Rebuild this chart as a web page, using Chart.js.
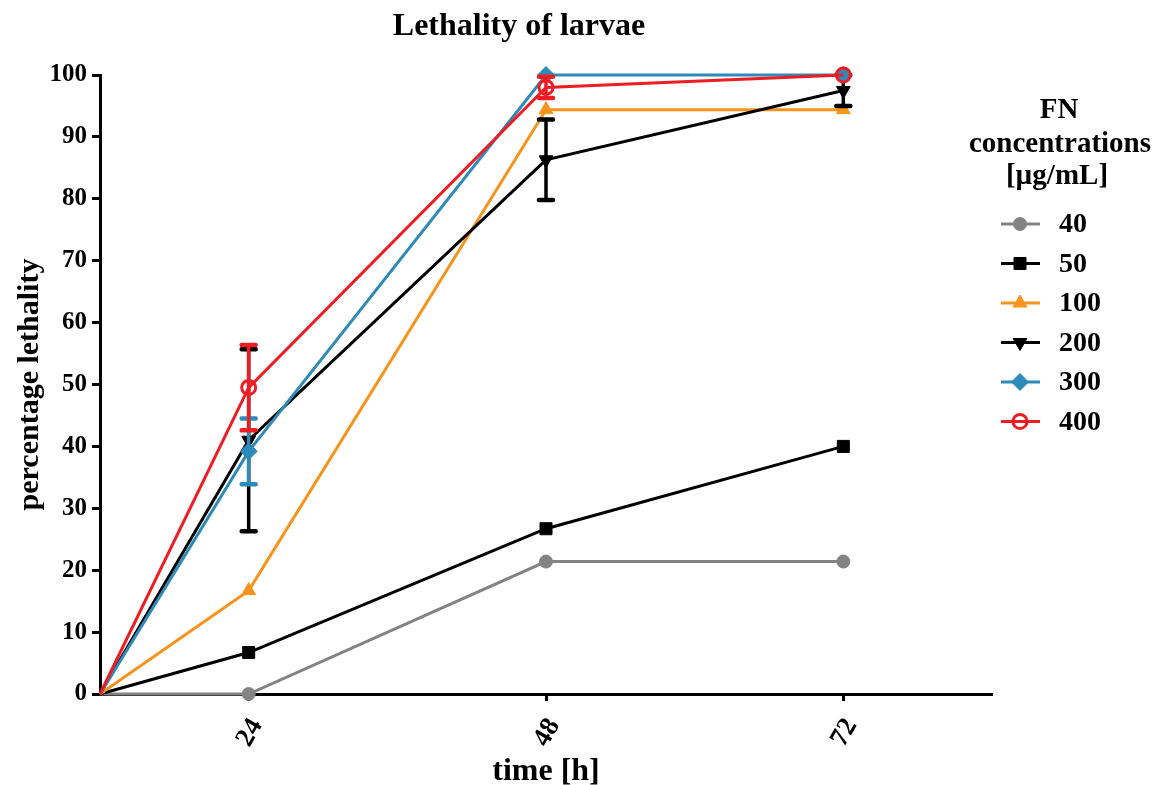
<!DOCTYPE html>
<html>
<head>
<meta charset="utf-8">
<script src="https://cdn.jsdelivr.net/npm/chart.js@4/dist/chart.umd.min.js"></script>
<style>
  html, body { margin: 0; padding: 0; background: #fff; }
  #wrap { width: 1158px; height: 785px; }
</style>
</head>
<body>
<div id="wrap"><canvas id="chart" width="1158" height="785"></canvas></div>
<script>
// time points (h) and tick labels
const hours = [0, 24, 48, 72];
const xTickValues = [24, 48, 72];
const yTickStep = 10;

// FN concentrations [µg/mL]
const concLabels = ["40", "50", "100", "200", "300", "400"];

// percentage lethality per concentration
const conc40 = [0, 0, 21.4, 21.4];
const conc50 = [0, 6.7, 26.7, 40];
const conc100 = [0, 16.7, 94.4, 94.4];
const conc200 = [0, 41, 86.3, 97.5];
const conc300 = [0, 39.2, 100, 100];
const conc400 = [0, 49.5, 98, 100];

// error bars (±)
const err40 = [0, 0, 0, 0];
const err50 = [0, 0, 0, 0];
const err100 = [0, 0, 0, 0];
const err200 = [0, 14.7, 6.5, 2.5];
const err300 = [0, 5.3, 0, 0];
const err400 = [0, 6.9, 1.7, 0];

// Prism style axis: 0 h sits on the left edge, half a step before 24 h
const xAxisMin = 12;
const xAxisMax = 84;

const FONT = "'Liberation Serif', 'Times New Roman', serif";

const seriesDefs = [
  { values: conc40, errors: err40, color: "#838383", style: "circle", radius: 6.5, fill: true, rot: 0 },
  { values: conc50, errors: err50, color: "#000000", style: "rect", radius: 8.5, fill: true, rot: 0 },
  { values: conc100, errors: err100, color: "#F7941D", style: "triangle", radius: 8, fill: true, rot: 0 },
  { values: conc200, errors: err200, color: "#000000", style: "triangle", radius: 8, fill: true, rot: 180 },
  { values: conc300, errors: err300, color: "#2E8AB8", style: "rectRot", radius: 8.5, fill: true, rot: 0 },
  { values: conc400, errors: err400, color: "#EE1D24", style: "circle", radius: 7, fill: false, rot: 0 },
];

const datasets = seriesDefs.map((s, i) => ({
  label: concLabels[i],
  data: hours.map((h, j) => ({ x: Math.max(h, xAxisMin), y: s.values[j] })),
  errors: s.errors,
  borderColor: s.color,
  backgroundColor: s.fill ? s.color : "rgba(0,0,0,0)",
  pointBackgroundColor: s.fill ? s.color : "rgba(0,0,0,0)",
  pointBorderColor: s.color,
  pointStyle: s.style,
  pointRotation: s.rot,
  legendRadius: s.radius,
  // no marker at the 0 h start point
  pointRadius: hours.map((h) => (h === 0 ? 0 : s.radius)),
  pointBorderWidth: s.fill ? 1 : 3,
  borderWidth: 3,
  tension: 0,
  clip: false,
  order: seriesDefs.length - i,
}));

const errorBars = {
  id: "errorBars",
  afterDatasetDraw(chart, args) {
    const ds = chart.data.datasets[args.index];
    if (!ds.errors) return;
    const ctx = chart.ctx;
    const yScale = chart.scales.y;
    ctx.save();
    ctx.strokeStyle = ds.borderColor;
    ctx.lineCap = "round";
    args.meta.data.forEach((pt, j) => {
      const e = ds.errors[j];
      if (!e) return;
      const v = ds.data[j].y;
      const yTop = yScale.getPixelForValue(v + e);
      const yBot = yScale.getPixelForValue(v - e);
      const x = pt.x;
      ctx.lineWidth = 3.5;
      ctx.beginPath();
      ctx.moveTo(x, yTop);
      ctx.lineTo(x, yBot);
      ctx.stroke();
      ctx.lineWidth = 4.5;
      ctx.beginPath();
      ctx.moveTo(x - 7, yTop);
      ctx.lineTo(x + 7, yTop);
      ctx.moveTo(x - 7, yBot);
      ctx.lineTo(x + 7, yBot);
      ctx.stroke();
    });
    ctx.restore();
  },
};

const extras = {
  id: "extras",
  afterDraw(chart) {
    const ctx = chart.ctx;
    ctx.save();
    ctx.fillStyle = "#000";
    ctx.textAlign = "center";
    ctx.textBaseline = "alphabetic";
    // chart title
    ctx.font = "bold 32px " + FONT;
    ctx.fillText("Lethality of larvae", 519, 35);

    // legend title
    ctx.font = "bold 29px " + FONT;
    ctx.fillText("FN", 1059, 118);
    ctx.fillText("concentrations", 1060, 152);
    ctx.fillText("[µg/mL]", 1057, 184);

    // legend rows
    ctx.textAlign = "left";
    ctx.textBaseline = "middle";
    chart.data.datasets.forEach((ds, i) => {
      const y = 224 + i * 39.5;
      ctx.strokeStyle = ds.borderColor;
      ctx.lineWidth = 3;
      ctx.beginPath();
      ctx.moveTo(1001, y);
      ctx.lineTo(1040, y);
      ctx.stroke();
      ctx.fillStyle = ds.pointBackgroundColor;
      ctx.strokeStyle = ds.pointBorderColor;
      ctx.lineWidth = ds.pointBorderWidth;
      Chart.helpers.drawPoint(ctx, {
        pointStyle: ds.pointStyle,
        rotation: ds.pointRotation,
        radius: ds.legendRadius,
        borderWidth: ds.pointBorderWidth,
      }, 1020, y);
      ctx.fillStyle = "#000";
      ctx.font = "bold 28px " + FONT;
      ctx.fillText(ds.label, 1059, y + 1);
    });
    ctx.restore();
  },
};

new Chart(document.getElementById("chart"), {
  type: "line",
  data: { datasets },
  plugins: [errorBars, extras],
  options: {
    responsive: false,
    animation: false,
    layout: { padding: { top: 75, right: 166, bottom: 0, left: 0 } },
    plugins: {
      legend: { display: false },
      title: { display: false },
      tooltip: { enabled: false },
    },
    scales: {
      x: {
        type: "linear",
        min: xAxisMin,
        max: xAxisMax,
        afterBuildTicks(scale) {
          scale.ticks = xTickValues.map((v) => ({ value: v }));
        },
        afterFit(scale) {
          scale.height = 91;
        },
        border: { color: "#000", width: 3 },
        grid: { drawOnChartArea: false, drawTicks: true, tickLength: 7, tickWidth: 3, tickColor: "#000" },
        ticks: {
          color: "#000",
          font: { family: FONT, size: 27, weight: "bold" },
          minRotation: 60,
          maxRotation: 60,
          padding: 12,
          labelOffset: 8,
          autoSkip: false,
        },
        title: {
          display: true,
          text: "time [h]",
          color: "#000",
          font: { family: FONT, size: 32, weight: "bold", lineHeight: 0.85 },
          padding: { top: 0, bottom: 0 },
        },
      },
      y: {
        min: 0,
        max: 100,
        afterFit(scale) {
          scale.width = 100;
        },
        border: { color: "#000", width: 3 },
        grid: { drawOnChartArea: false, drawTicks: true, tickLength: 8, tickWidth: 3, tickColor: "#000" },
        ticks: {
          stepSize: yTickStep,
          color: "#000",
          font: { family: FONT, size: 25, weight: "bold" },
          padding: 5,
        },
        title: {
          display: true,
          text: "percentage lethality",
          color: "#000",
          font: { family: FONT, size: 30, weight: "bold", lineHeight: 1 },
          padding: { top: 15, bottom: 0 },
        },
      },
    },
  },
});
</script>
</body>
</html>
